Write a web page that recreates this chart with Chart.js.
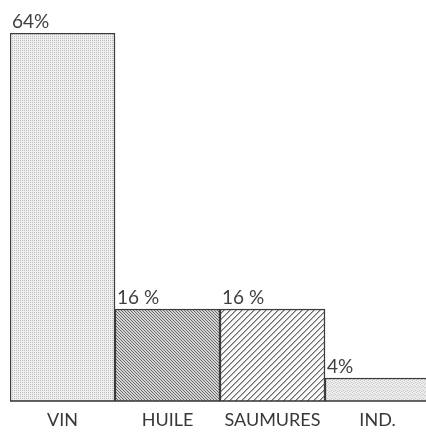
<!DOCTYPE html>
<html>
<head>
<meta charset="utf-8">
<script src="https://cdn.jsdelivr.net/npm/chart.js@4/dist/chart.umd.min.js"></script>
<style>
  html, body { margin: 0; padding: 0; background: #fff; overflow: hidden; }
  /* a little wider than the window: the last bar runs off the right edge like in the scan */
  #wrap { width: 430px; height: 433px; position: relative; }
</style>
</head>
<body>
<div id="wrap"><canvas id="chart"></canvas></div>
<script>
// data
var categories = ['VIN', 'HUILE', 'SAUMURES', 'IND.'];
var shares = [64, 16, 16, 4];
var shareLabels = ['64%', '16 %', '16 %', '4%'];

// pixel tiles for the bar fills (set pixel by pixel, no antialiasing)
function makePattern(size, bg, ink, pts) {
  var c = document.createElement('canvas');
  c.width = size; c.height = size;
  var x = c.getContext('2d');
  x.fillStyle = bg; x.fillRect(0, 0, size, size);
  for (var i = 0; i < pts.length; i++) {
    x.fillStyle = pts[i][2] || ink;
    x.fillRect(pts[i][0], pts[i][1], 1, 1);
  }
  return x.createPattern(c, 'repeat');
}

var fills = [
  // fine stipple
  makePattern(2, '#efefef', '#bdbdbd', [[0, 0]]),
  // dense "\" hatch
  makePattern(3, '#d4d4d4', '#6c6c6c', [[0, 0], [1, 1], [2, 2]]),
  // open "/" hatch
  makePattern(6, '#fafafa', '#6a6a6a', [[0, 5], [1, 4], [2, 3], [3, 2], [4, 1], [5, 0],
                                         [1, 5, '#b0b0b0'], [2, 4, '#b0b0b0'], [3, 3, '#b0b0b0'],
                                         [4, 2, '#b0b0b0'], [5, 1, '#b0b0b0'], [0, 0, '#b0b0b0']]),
  // light speckle
  makePattern(4, '#eeeeee', '#cccccc', [[0, 0], [2, 1], [1, 3], [3, 2], [2, 3, '#dedede'], [0, 2, '#dedede']])
];

// writes the percentage over the left corner of each bar
var shareText = {
  id: 'shareText',
  afterDatasetsDraw: function (chart) {
    var ctx = chart.ctx;
    var bars = chart.getDatasetMeta(0).data;
    ctx.save();
    ctx.fillStyle = '#404040';
    ctx.font = '19px Lato, "Open Sans", sans-serif';
    ctx.textAlign = 'left';
    ctx.textBaseline = 'alphabetic';
    for (var i = 0; i < bars.length; i++) {
      var b = bars[i];
      ctx.fillText(shareLabels[i], b.x - b.width / 2 + 2, b.y - 5);
    }
    ctx.restore();
  }
};

// dark base line under the bars
var baseLine = {
  id: 'baseLine',
  afterDatasetsDraw: function (chart) {
    var a = chart.chartArea, ctx = chart.ctx;
    ctx.save();
    ctx.strokeStyle = '#333';
    ctx.lineWidth = 1.5;
    ctx.beginPath();
    ctx.moveTo(a.left, a.bottom);
    ctx.lineTo(chart.width, a.bottom);
    ctx.stroke();
    ctx.restore();
  }
};

new Chart(document.getElementById('chart'), {
  type: 'bar',
  data: {
    labels: categories,
    datasets: [{
      data: shares,
      backgroundColor: fills,
      borderColor: '#3c3c3c',
      borderWidth: 1.5,
      barPercentage: 1,
      categoryPercentage: 1
    }]
  },
  options: {
    responsive: true,
    maintainAspectRatio: false,
    animation: false,
    layout: { padding: { top: 33, left: 10, right: 0, bottom: 0 } },
    plugins: { legend: { display: false }, tooltip: { enabled: false } },
    scales: {
      x: {
        grid: { display: false, drawTicks: false },
        border: { display: false },
        afterFit: function (axis) { axis.height = 32; },
        ticks: { color: '#383838', padding: 8, maxRotation: 0, font: { size: 18, family: 'Lato, "Open Sans", sans-serif' } }
      },
      y: { display: false, min: 0, max: 64 }
    }
  },
  plugins: [shareText, baseLine]
});
</script>
</body>
</html>
